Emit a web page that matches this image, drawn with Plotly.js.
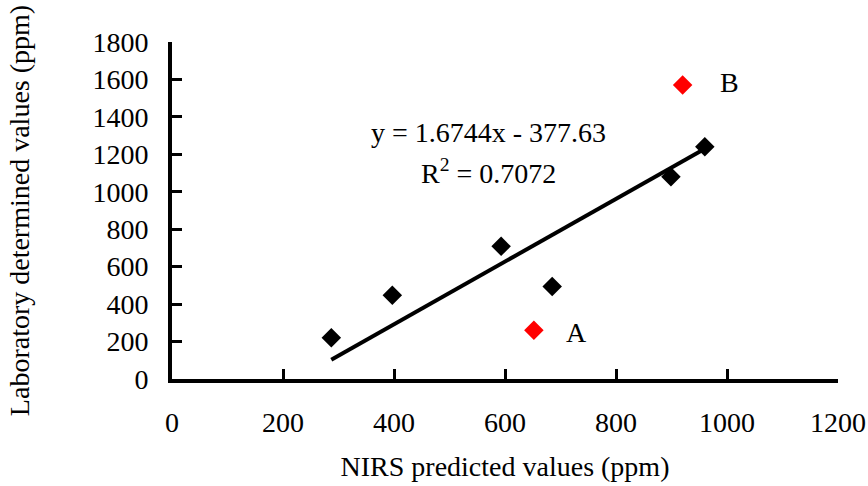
<!DOCTYPE html>
<html>
<head>
<meta charset="utf-8">
<script src="https://cdn.plot.ly/plotly-3.0.1.min.js"></script>
<style>html,body{margin:0;padding:0;background:#fff;}#chart{width:868px;height:486px;}</style>
</head>
<body>
<div id="chart"></div>
<script>
// Calibration samples (black)
const nirsX = [287, 397, 593, 685, 899, 960];
const labY = [220, 447, 709, 494, 1080, 1241];
// Outliers (red)
const outlierX = [652, 920];
const outlierY = [260, 1570];
const outlierLabels = ["A", "B"];
// Trendline parameters (as printed)
const slope = 1.6744;
const intercept = -377.63;
const r2 = 0.7072;

const xMin = Math.min(...nirsX), xMax = Math.max(...nirsX);
const lineX = [xMin, xMax];
const lineY = lineX.map(v => slope * v + intercept);

const FS = 28;
const font = {family: "Liberation Serif, Times New Roman, serif", color: "#000", size: FS};

const traces = [
  {x: lineX, y: lineY, mode: "lines", line: {color: "#000", width: 4}, hoverinfo: "skip"},
  {x: nirsX, y: labY, mode: "markers", marker: {symbol: "diamond", size: 15, color: "#000"}},
  {x: outlierX, y: outlierY, mode: "markers", marker: {symbol: "diamond", size: 15, color: "#ff0000"}}
];

const annotations = [
  {x: 728, y: 250, text: outlierLabels[0], showarrow: false, font: font},
  {x: 1005, y: 1585, text: outlierLabels[1], showarrow: false, font: font},
  {x: 571, y: 1316, text: "y = " + slope + "x - " + Math.abs(intercept), showarrow: false, font: font},
  {x: 571, y: 1107, text: "R<sup>2</sup> = " + r2, showarrow: false, font: font}
];

const axisCommon = {
  showline: true, linecolor: "#000", linewidth: 4,
  ticks: "inside", ticklen: 10, tickwidth: 3, tickcolor: "#000",
  showgrid: false, zeroline: false,
  tickfont: font
};

const layout = {
  width: 868, height: 486,
  margin: {l: 172, r: 30, t: 42, b: 107},
  paper_bgcolor: "#fff", plot_bgcolor: "#fff",
  showlegend: false,
  font: font,
  xaxis: Object.assign({}, axisCommon, {
    range: [0, 1200], dtick: 200, tick0: 0, ticklabelstandoff: 15,
    title: {text: "NIRS predicted values (ppm)", font: font, standoff: 21}
  }),
  yaxis: Object.assign({}, axisCommon, {
    range: [0, 1800], dtick: 200, tick0: 0, ticklabelstandoff: 14,
    title: {text: "Laboratory determined values (ppm)", font: font, standoff: 56}
  }),
  annotations: annotations
};

Plotly.newPlot("chart", traces, layout, {displayModeBar: false, staticPlot: true});
</script>
</body>
</html>
